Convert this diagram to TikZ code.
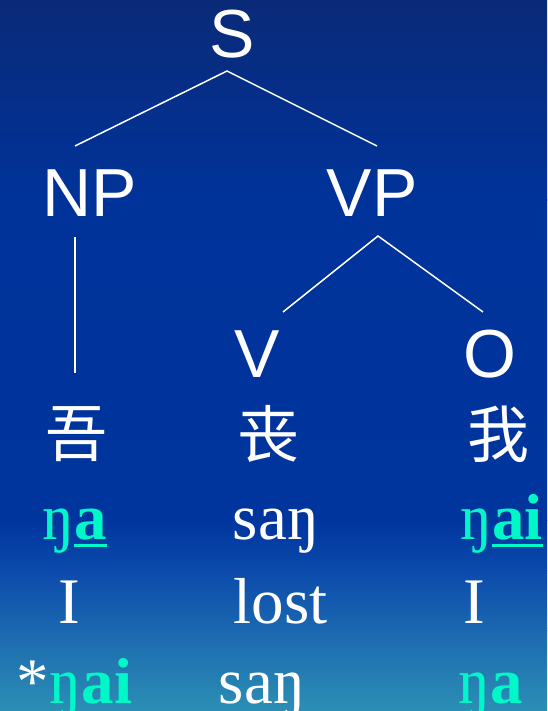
\documentclass[tikz,border=0pt]{standalone}
\usepackage{fontspec}
\setmainfont{Liberation Serif}
\newfontfamily\labelfont{Liberation Sans}
\newfontfamily\cjk{Noto Sans CJK SC}

% background bands, top to bottom
\definecolor{bgA}{HTML}{0A2A78}
\definecolor{bgB}{HTML}{00339A}
\definecolor{bgC}{HTML}{00359E}
\definecolor{bgD}{HTML}{0B4AAB}
\definecolor{bgE}{HTML}{1C68B0}
\definecolor{bgF}{HTML}{2B8FB4}
\definecolor{accent}{RGB}{0,248,200}

\newcommand\hl[1]{\textcolor{accent}{#1}}
\newcommand\ulbold[1]{\setbox0\hbox{\bfseries #1}\rlap{\rule[-8pt]{\wd0}{3pt}}\box0}

\tikzset{
  cat/.style={font=\labelfont\fontsize{68}{68}\selectfont, text=white, inner sep=0pt, anchor=base},
  word/.style={font=\fontsize{65}{65}\selectfont, text=white, inner sep=0pt, anchor=base},
  han/.style={font=\cjk\fontsize{62}{62}\selectfont, text=white, inner sep=0pt, anchor=center},
  branch/.style={draw=white, line width=1.5pt}
}

\begin{document}
\begin{tikzpicture}[x=1pt, y=-1pt]
\useasboundingbox (0,0) rectangle (547,711);

% background gradient
\shade[top color=bgA, bottom color=bgB] (0,0) rectangle (547,200.5);
\shade[top color=bgB, bottom color=bgC] (0,200) rectangle (547,520.5);
\shade[top color=bgC, bottom color=bgD] (0,520) rectangle (547,570.5);
\shade[top color=bgD, bottom color=bgE] (0,570) rectangle (547,630.5);
\shade[top color=bgE, bottom color=bgF] (0,630) rectangle (547,711);

% tree labels
\node[cat] (S)  at (232.5,58) {S};
\node[cat] (NP) at (90,217)   {NP};
\node[cat] (VP) at (372,217)  {VP};
\node[cat] (V)  at (257,377)  {V};
\node[cat] (O)  at (490,377)  {O};

% characters
\node[han] (wu)   at (76,434)  {吾};
\node[han] (sang) at (268,434) {丧};
\node[han] (wo)   at (498,434) {我};

% readings and glosses
\node[word] (r1a) at (74.5,539)  {\hl{ŋ\ulbold{a}}};
\node[word] (r1b) at (276,539)   {saŋ};
\node[word] (r1c) at (501.5,539) {\hl{ŋ\ulbold{ai}}};

\node[word] (r2a) at (69,623)    {I};
\node[word] (r2b) at (280.5,623) {lost};
\node[word] (r2c) at (474,623)   {I};

\node[word] (r3a) at (74.5,703)  {*\hl{ŋ\textbf{ai}}};
\node[word] (r3b) at (262,703)   {saŋ};
\node[word] (r3c) at (491,703)   {\hl{ŋ\textbf{a}}};

% branch end points
\coordinate (Sj)  at (227,71);
\coordinate (NPu) at (75,146);
\coordinate (VPu) at (377,146);
\coordinate (NPd) at (75,237);
\coordinate (wuU) at (75,373);
\coordinate (VPd) at (378,236);
\coordinate (Vu)  at (283,312);
\coordinate (Ou)  at (483,312);

% branches
\draw[branch] (NPu) -- (Sj) -- (VPu);
\draw[branch] (NPd) -- (wuU);
\draw[branch] (Vu) -- (VPd) -- (Ou);
\end{tikzpicture}
\end{document}
